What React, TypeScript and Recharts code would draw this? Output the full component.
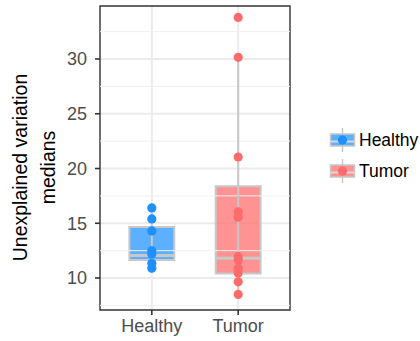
import React from 'react'
import {
  ComposedChart,
  Scatter,
  XAxis,
  YAxis,
  CartesianGrid,
  ReferenceArea,
  ReferenceLine,
} from 'recharts'

const groups = ['Healthy', 'Tumor']
const healthyValues = [16.4, 15.4, 14.3, 12.5, 12.2, 11.35, 10.9]
const tumorValues = [33.8, 30.15, 21.05, 16.05, 15.55, 11.95, 11.65, 10.9, 10.45, 9.65, 8.5]

// box summary per group, same order as groups
const lowerWhisker = [10.9, 8.5]
const lowerHinge = [11.64, 10.42]
const medians = [12.05, 11.8]
const upperHinge = [14.65, 18.38]
const upperWhisker = [16.4, 30.15]

const yTicks = [10, 15, 20, 25, 30]
const yMinorTicks = [7.5, 12.5, 17.5, 22.5, 27.5, 32.5]
const yDomain = [7.08, 34.84]
const xDomain = [0.4, 2.6]

const pointColors = ['#1E90FF', '#FF6A6A']
const boxColors = ['#1E90FF', '#FF6A6A']
const boxHalfWidth = 0.26
const FONT = '"Liberation Sans", Arial, Helvetica, sans-serif'

const healthyData = healthyValues.map(v => ({ x: 1, y: v }))
const tumorData = tumorValues.map(v => ({ x: 2, y: v }))

function dot(color: string) {
  return (props: any) => <circle cx={props.cx} cy={props.cy} r={4.6} fill={color} />
}

function AxisTitle() {
  return (
    <g fontFamily={FONT} fontSize={19.5} fill="#000">
      <text transform="translate(20,167.5) rotate(-90)" textAnchor="middle" dominantBaseline="central">
        Unexplained variation
      </text>
      <text transform="translate(48,167.5) rotate(-90)" textAnchor="middle" dominantBaseline="central">
        medians
      </text>
    </g>
  )
}

function LegendKey({ color, label, cy }: { color: string; label: string; cy: number }) {
  const cx = 342.5
  return (
    <g>
      <line x1={cx} x2={cx} y1={cy - 12} y2={cy + 12} stroke="#C8C8C8" strokeWidth={1.5} />
      <rect x={cx - 12} y={cy - 6} width={24} height={12} fill={color} fillOpacity={0.72} stroke="#C8C8C8" strokeWidth={1.5} />
      <line x1={cx - 12} x2={cx + 12} y1={cy + 1.5} y2={cy + 1.5} stroke="#D8D8D8" strokeWidth={2} />
      <circle cx={cx} cy={cy} r={4.6} fill={color} />
      <text x={359} y={cy} dominantBaseline="central" fontFamily={FONT} fontSize={17.5} fill="#000">
        {label}
      </text>
    </g>
  )
}

export default function App() {
  return (
    <div style={{ position: 'fixed', left: 0, top: 0, width: 420, height: 341, background: '#fff' }}>
      <ComposedChart
        width={420}
        height={341}
        margin={{ top: 6, right: 130, bottom: 6, left: 50 }}
        style={{ fontFamily: FONT }}
      >
        <CartesianGrid
          stroke="#EBEBEB"
          strokeWidth={2}
          verticalValues={[1, 2]}
          horizontalValues={yTicks}
        />
        {yMinorTicks.map(v => (
          <ReferenceLine key={'m' + v} y={v} stroke="#F0F0F0" strokeWidth={1} />
        ))}
        <XAxis
          type="number"
          dataKey="x"
          domain={xDomain}
          ticks={[1, 2]}
          allowDataOverflow
          height={25}
          tickFormatter={v => groups[v - 1]}
          tick={{ fill: '#4D4D4D', fontSize: 18 }}
          tickSize={5}
          tickMargin={4}
          axisLine={false}
          tickLine={{ stroke: '#333', strokeWidth: 1.6 }}
        />
        <YAxis
          type="number"
          dataKey="y"
          domain={yDomain}
          ticks={yTicks}
          allowDataOverflow
          width={50}
          tick={{ fill: '#4D4D4D', fontSize: 18 }}
          tickSize={5}
          tickMargin={8}
          axisLine={false}
          tickLine={{ stroke: '#333', strokeWidth: 1.6 }}
          label={{ content: () => <AxisTitle /> }}
        />
        {groups.map((g, i) => (
          <ReferenceLine
            key={'w' + g}
            segment={[
              { x: i + 1, y: lowerWhisker[i] },
              { x: i + 1, y: upperWhisker[i] },
            ]}
            stroke="#C8C8C8"
            strokeWidth={2}
          />
        ))}
        {groups.map((g, i) => (
          <ReferenceArea
            key={'b' + g}
            x1={i + 1 - boxHalfWidth}
            x2={i + 1 + boxHalfWidth}
            y1={lowerHinge[i]}
            y2={upperHinge[i]}
            fill={boxColors[i]}
            fillOpacity={0.72}
            stroke="#C8C8C8"
            strokeWidth={2}
          />
        ))}
        {groups.map((g, i) => (
          <ReferenceLine
            key={'md' + g}
            segment={[
              { x: i + 1 - boxHalfWidth, y: medians[i] },
              { x: i + 1 + boxHalfWidth, y: medians[i] },
            ]}
            stroke="#C8C8C8"
            strokeWidth={3}
          />
        ))}
        <Scatter data={healthyData} shape={dot(pointColors[0])} isAnimationActive={false} />
        <Scatter data={tumorData} shape={dot(pointColors[1])} isAnimationActive={false} />
        <ReferenceArea
          x1={xDomain[0]}
          x2={xDomain[1]}
          y1={yDomain[0]}
          y2={yDomain[1]}
          fill="none"
          stroke="#333"
          strokeWidth={1.4}
          ifOverflow="extendDomain"
        />
      </ComposedChart>
      <svg width={420} height={341} style={{ position: 'absolute', left: 0, top: 0, pointerEvents: 'none' }}>
        <LegendKey color={boxColors[0]} label="Healthy" cy={140} />
        <LegendKey color={boxColors[1]} label="Tumor" cy={171} />
      </svg>
    </div>
  )
}
